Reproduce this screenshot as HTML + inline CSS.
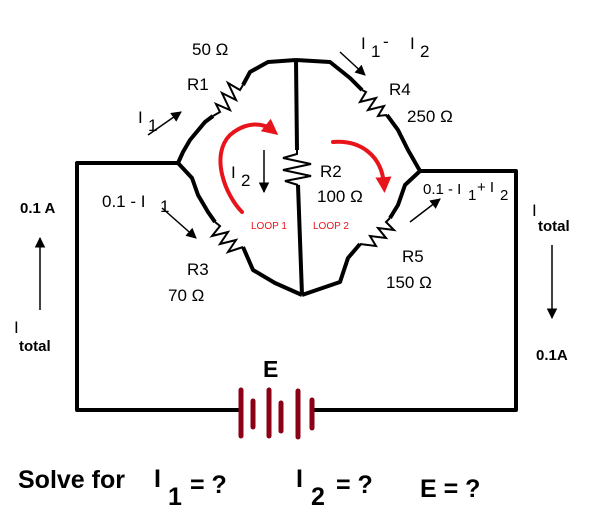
<!DOCTYPE html>
<html><head><meta charset="utf-8"><style>
html,body{margin:0;padding:0;background:#fff;}
svg{display:block;}
text{font-family:"Liberation Sans",sans-serif;}
</style></head><body>
<svg width="610" height="532" viewBox="0 0 610 532" xmlns="http://www.w3.org/2000/svg">
<defs>
<marker id="ah" viewBox="0 0 10 10" refX="9" refY="5" markerWidth="7" markerHeight="7" orient="auto"><path d="M0,0 L10,5 L0,10 z" fill="#000"/></marker>
<marker id="rh" viewBox="0 0 10 10" refX="5" refY="5" markerWidth="4" markerHeight="4" orient="auto"><path d="M0,0 L10,5 L0,10 z" fill="#e8141c"/></marker>
</defs>
<g fill="none" stroke="#000" stroke-width="4" stroke-linejoin="round">
<polyline points="178,163 77,163 77,410 240,410"/>
<polyline points="312,410 516,410 516,171 420,171"/>
<polyline points="296,60 268,62 250,72 243,85"/>
<polyline points="213,116 205,122 190,140 183,152 178,163"/>
<polyline points="178,163 192,178 198,195 208,212 215,222"/>
<polyline points="243,247 253,270 275,283 302,295"/>
<polyline points="296,60 330,62 350,78 362,90"/>
<polyline points="387,115 398,130 408,150 420,171"/>
<polyline points="420,171 405,185 398,205 390,218"/>
<polyline points="360,244 348,258 340,282 302,295"/>
<polyline points="296,60 297,150"/>
<polyline points="298,185 302,295"/>
</g>
<g fill="none" stroke="#000" stroke-width="2" stroke-linejoin="miter">
<polyline points="243,85 240,90 228,83 236,100 222,93 230,110 216,104 220,112 213,116"/>
<polyline points="215,222 220,226 212,236 228,232 220,244 236,240 228,252 240,248 243,247"/>
<polyline points="362,90 366,92 360,102 376,98 368,110 384,106 378,116 387,115"/>
<polyline points="390,218 386,222 394,230 378,228 386,238 370,236 376,246 360,244"/>
<polyline points="297,150 297,154 283,158 311,164 283,170 311,176 285,181 298,185"/>
</g>
<g stroke="#8b0016" stroke-linecap="round">
<line x1="241" y1="390" x2="241" y2="436" stroke-width="5"/>
<line x1="253" y1="401" x2="253" y2="427" stroke-width="5"/>
<line x1="269" y1="390" x2="269" y2="436" stroke-width="5"/>
<line x1="281" y1="403" x2="281" y2="431" stroke-width="5"/>
<line x1="298" y1="391" x2="298" y2="437" stroke-width="5"/>
<line x1="312" y1="400" x2="312" y2="428" stroke-width="5"/>
</g>
<g fill="none" stroke="#e8141c" stroke-width="4" stroke-linecap="round">
<path d="M242,212 C225,195 210,155 230,135 C245,122 262,122 272,130" marker-end="url(#rh)"/>
<path d="M333,142 C360,140 382,155 384,185" marker-end="url(#rh)"/>
</g>
<text x="251" y="229" font-size="10" fill="#e8141c">LOOP 1</text>
<text x="313" y="229" font-size="10" fill="#e8141c">LOOP 2</text>
<g stroke="#000" stroke-width="1.5" fill="none">
<line x1="264" y1="150" x2="264" y2="192" marker-end="url(#ah)"/>
<line x1="148" y1="135" x2="181" y2="112" marker-end="url(#ah)"/>
<line x1="162" y1="208" x2="196" y2="238" marker-end="url(#ah)"/>
<line x1="340" y1="52" x2="365" y2="75" marker-end="url(#ah)"/>
<line x1="410" y1="222" x2="440" y2="199" marker-end="url(#ah)"/>
<line x1="40" y1="310" x2="40" y2="238" marker-end="url(#ah)"/>
<line x1="552" y1="245" x2="552" y2="318" marker-end="url(#ah)"/>
</g>
<g font-size="17" fill="#000">
<text x="192" y="55">50 Ω</text>
<text x="187" y="90">R1</text>
<text x="138" y="123">I</text><text x="148" y="131">1</text>
<text x="361" y="49">I</text><text x="371" y="57">1</text><text x="383" y="47">-</text>
<text x="410" y="49">I</text><text x="420" y="57">2</text>
<text x="389" y="95">R4</text>
<text x="407" y="122">250 Ω</text>
<text x="231" y="178">I</text><text x="241" y="186">2</text>
<text x="320" y="177">R2</text>
<text x="317" y="202">100 Ω</text>
<text x="102" y="207">0.1 -  I</text><text x="160" y="212">1</text>
<text x="187" y="275">R3</text>
<text x="168" y="301">70 Ω</text>
<text x="402" y="262">R5</text>
<text x="386" y="288">150 Ω</text>
</g>
<g font-size="15" fill="#000">
<text x="423" y="194">0.1 - I</text><text x="468" y="200">1</text><text x="477" y="192">+ I</text><text x="500" y="200">2</text>
</g>
<g font-size="15" font-weight="bold" fill="#000">
<text x="20" y="213">0.1 A</text>
<text x="14" y="333" font-weight="normal" font-size="17">I</text>
<text x="19" y="351">total</text>
<text x="532" y="216" font-weight="normal" font-size="17">I</text>
<text x="538" y="231">total</text>
<text x="536" y="360">0.1A</text>
</g>
<text x="263" y="377" font-size="23" font-weight="bold">E</text>
<g font-size="25" font-weight="bold" fill="#000">
<text x="18" y="488">Solve for</text>
<text x="154" y="487">I</text><text x="168" y="505">1</text><text x="190" y="493">= ?</text>
<text x="296" y="487">I</text><text x="311" y="505">2</text><text x="336" y="493">= ?</text>
<text x="420" y="497">E =  ?</text>
</g>
</svg>
</body></html>
